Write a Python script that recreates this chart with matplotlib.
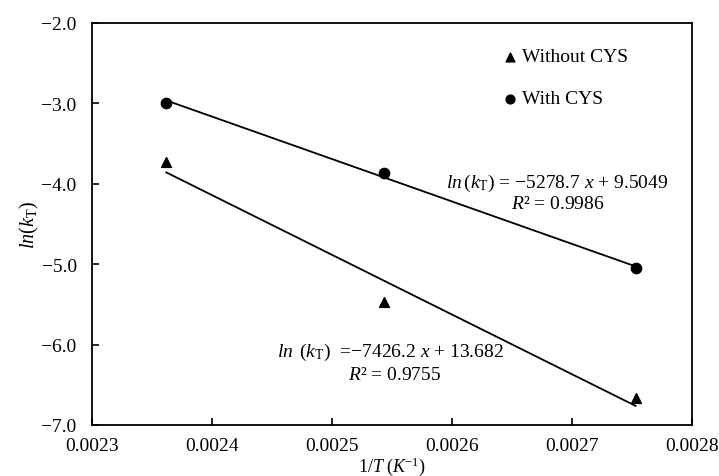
import numpy as np
import matplotlib
matplotlib.use("Agg")
import matplotlib.pyplot as plt

plt.rcParams['font.family'] = ['Liberation Serif', 'DejaVu Serif']
plt.rcParams['mathtext.fontset'] = 'custom'
plt.rcParams['mathtext.rm'] = 'Liberation Serif'
plt.rcParams['mathtext.it'] = 'Liberation Serif:italic'

MINUS = '\u2212'

# data
inv_T = [0.002362, 0.002543, 0.002753]
ln_k_without = [-3.73, -5.47, -6.66]
ln_k_with = [-2.99, -3.866, -5.047]
# trendline coefficients as printed on the chart
fit_without = [-7426.2, 13.682]
fit_with = [-5278.7, 9.5049]
xtick_labels = ['0.0023', '0.0024', '0.0025', '0.0026', '0.0027', '0.0028']
ytick_labels = [MINUS + v for v in ['7.0', '6.0', '5.0', '4.0', '3.0', '2.0']]

fig = plt.figure(figsize=(7.19, 4.77), dpi=100)
ax = fig.add_axes([92/719, 1-426/477, 600/719, 402/477])

x = np.array(inv_T)
ax.plot(x, fit_with[0]*x + fit_with[1], color='black', lw=1.3)
ax.plot(x, fit_without[0]*x + fit_without[1], color='black', lw=1.3)
ax.scatter(inv_T, ln_k_with, marker='o', s=55, color='black', zorder=3)
ax.scatter(inv_T, ln_k_without, marker='^', s=50, color='black', zorder=3)

ax.set_xlim(0.0023, 0.0028)
ax.set_ylim(-7.0, -2.0)
ax.set_xticks(np.arange(0.0023, 0.00281, 0.0001))
ax.set_xticklabels(xtick_labels)
ax.set_yticks(np.arange(-7.0, -1.99, 1.0))
ax.set_yticklabels(ytick_labels)
ax.tick_params(direction='in', labelsize=14, length=5, width=1.2)
ax.tick_params(axis='y', pad=11)
ax.tick_params(axis='x', pad=9)
for s in ax.spines.values():
    s.set_linewidth(1.3)

# legend drawn by hand
ax.scatter([0.002648], [-2.42], marker='^', s=40, color='black', clip_on=False)
ax.text(0.002658, -2.42, 'Without CYS', fontsize=14, va='center')
ax.scatter([0.002648], [-2.94], marker='o', s=40, color='black', clip_on=False)
ax.text(0.002658, -2.94, 'With CYS', fontsize=14, va='center')

ax.text(0.00278, -3.98,
        r'$ln\,(k_{\mathrm{T}})$ = ' + MINUS + r'5278.7 $x$ + 9.5049',
        fontsize=14, ha='right', va='center')
ax.text(0.002688, -4.24, r'$R$² = 0.9986', fontsize=14, ha='center', va='center')
ax.text(0.002549, -6.09,
        r'$ln\,$ ($k_{\mathrm{T}}$)  =' + MINUS + r'7426.2 $x$ + 13.682',
        fontsize=14, ha='center', va='center')
ax.text(0.002552, -6.37, r'$R$² = 0.9755', fontsize=14, ha='center', va='center')

ax.set_ylabel(r'$ln(k_{\mathrm{T}})$', fontsize=14.5, labelpad=0)
ax.set_xlabel(r'1/$T$ ($K$$^{\mathrm{-1}}$)', fontsize=13, labelpad=0)

fig.savefig('out.png', dpi=100)
